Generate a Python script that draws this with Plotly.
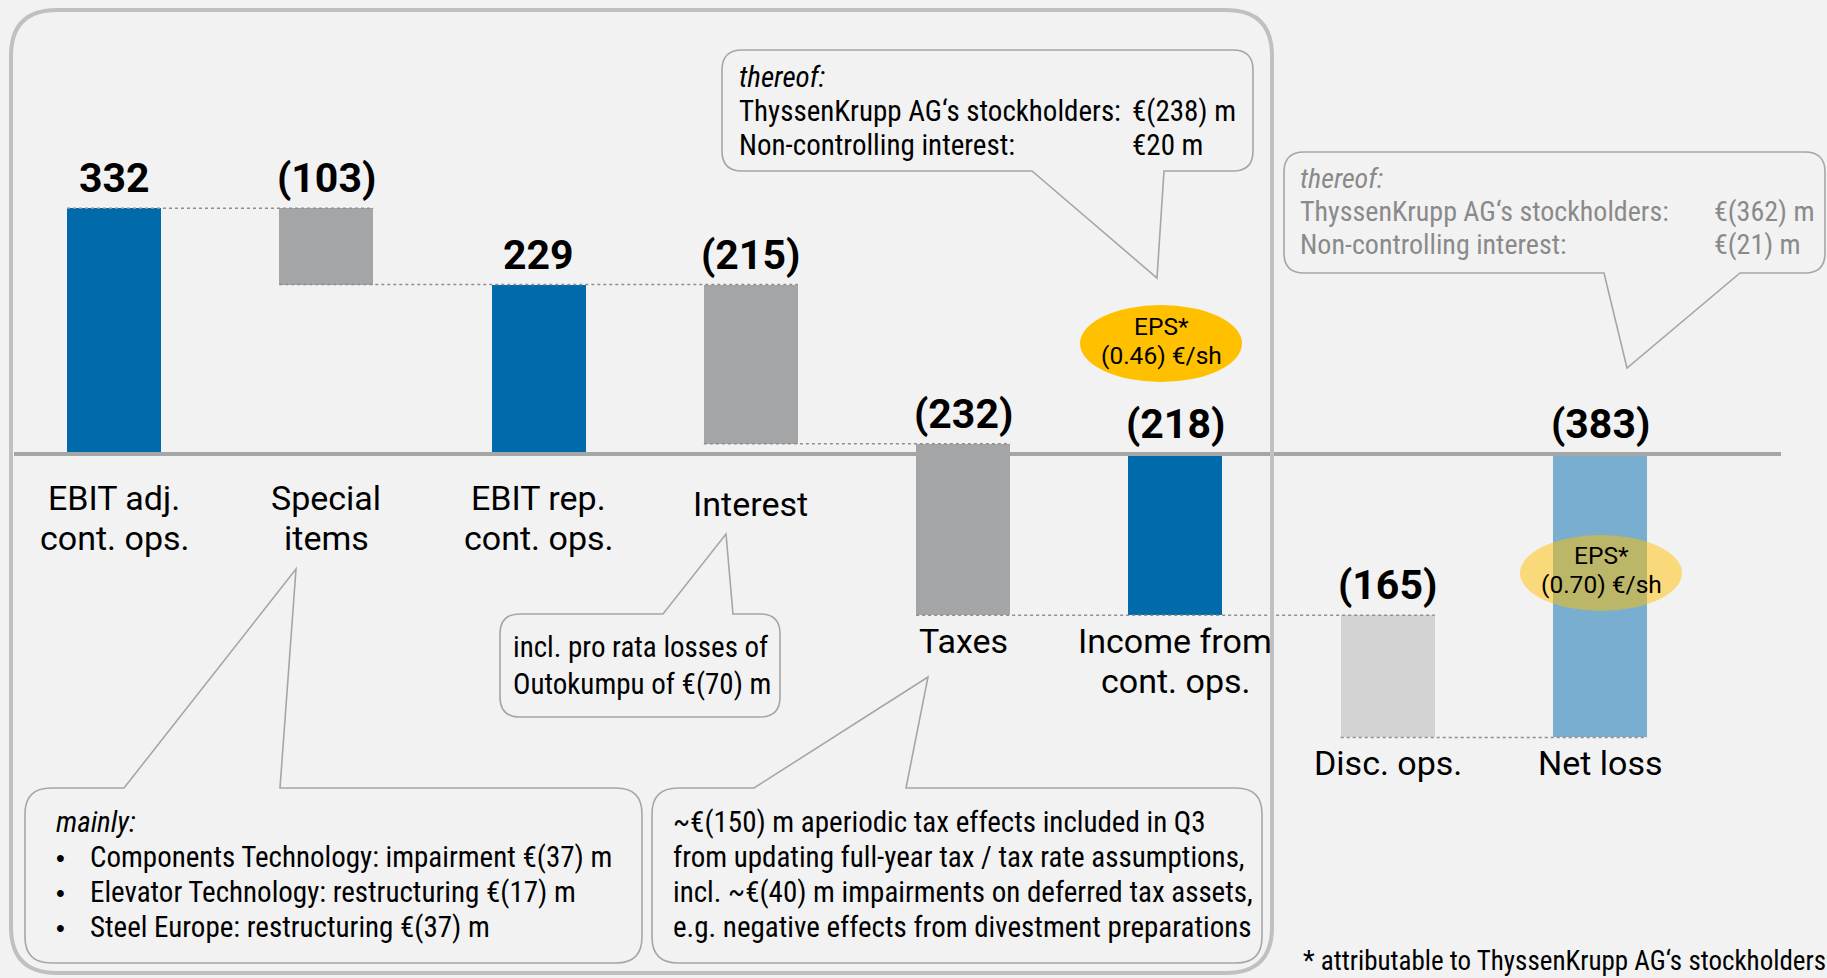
import plotly.graph_objects as go

# ---------------- data ----------------
categories = ["EBIT adj.\ncont. ops.", "Special\nitems", "EBIT rep.\ncont. ops.", "Interest",
              "Taxes", "Income from\ncont. ops.", "Disc. ops.", "Net loss"]
values = [332, -103, 229, -215, -232, -218, -165, -383]
measures = ["absolute", "relative", "total", "relative", "relative", "total", "relative", "total"]
bar_colors = ["#006AAB", "#A4A5A7", "#006AAB", "#A4A5A7", "#A4A5A7", "#006AAB", "#D3D3D3", "#79AED0"]

eps_cont = "(0.46) €/sh"
eps_net = "(0.70) €/sh"
thereof_cont = [("ThyssenKrupp AG‘s stockholders:", "€(238) m"), ("Non-controlling interest:", "€20 m")]
thereof_net = [("ThyssenKrupp AG‘s stockholders:", "€(362) m"), ("Non-controlling interest:", "€(21) m")]
interest_note = ["incl. pro rata losses of", "Outokumpu of €(70) m"]
special_note = ["Components Technology: impairment €(37) m",
                "Elevator Technology: restructuring €(17) m",
                "Steel Europe: restructuring €(37) m"]
tax_note = ["~€(150) m aperiodic tax effects included in Q3",
            "from updating full-year tax / tax rate assumptions,",
            "incl. ~€(40) m impairments on deferred tax assets,",
            "e.g. negative effects from divestment preparations"]
footnote = "* attributable to ThyssenKrupp AG‘s stockholders"

# ---------------- layout constants ----------------
W, H = 1827, 978
BG = "#F2F2F2"
COND = "Roboto Condensed, Liberation Sans, sans-serif"
ROBO = "Roboto, Liberation Sans, sans-serif"
MID = 0.342                           # baseline -> text-box middle, in em
X0PX, XSTEP = 114.0, 212.29          # pixel of first category, pixels per category
ZEROPX, YSCALE = 454.0, 0.74          # pixel of zero line, pixels per unit
BAR_W = 0.443

# waterfall geometry from values
bases, heights, levels = [], [], []
running = 0
for v, m in zip(values, measures):
    if m == "absolute":
        bases.append(0); heights.append(v); running = v
    elif m == "relative":
        bases.append(running); heights.append(v); running += v
    else:
        bases.append(0); heights.append(running)
    levels.append(running)
xs = list(range(len(values)))
tops = [max(b, b + h) for b, h in zip(bases, heights)]
bottoms = [min(b, b + h) for b, h in zip(bases, heights)]

fig = go.Figure()
fig.add_trace(go.Bar(x=xs, y=heights, base=bases, width=BAR_W,
                     marker=dict(color=bar_colors, line=dict(width=0)),
                     hoverinfo="skip", showlegend=False))


def PX(px):
    return px / W


def PY(py):
    return 1 - py / H


def text_px(txt, x, baseline, size, color="#000000", anchor="left", family=COND):
    ymid = baseline - MID * size
    fig.add_annotation(x=PX(x), y=PY(ymid), xref="paper", yref="paper", text=txt,
                       showarrow=False, xanchor=anchor, yanchor="middle", borderpad=0,
                       font=dict(family=family, size=size, color=color))


def fmt(v):
    return f"({abs(v)})" if v < 0 else f"{v}"


# value labels
VAL_SIZE = 41
for i, v in enumerate(values):
    fig.add_annotation(x=i, y=tops[i], xref="x", yref="y", text=f"<b>{fmt(v)}</b>",
                       showarrow=False, xanchor="center", yanchor="middle", borderpad=0,
                       yshift=16 + MID * VAL_SIZE,
                       font=dict(family=ROBO, size=VAL_SIZE, color="#000000"))

# category labels
CAT_SIZE = 34
CAT_PITCH = 40
for i, c in enumerate(categories):
    lines = c.split("\n")
    if i <= 3:
        anchor_y = 0
        first = 56 if len(lines) > 1 else 62
    else:
        anchor_y = bottoms[i]
        first = 37
    for k, ln in enumerate(lines):
        base_off = first + k * CAT_PITCH
        fig.add_annotation(x=i, y=anchor_y, xref="x", yref="y", text=ln, showarrow=False,
                           xanchor="center", yanchor="middle", borderpad=0,
                           yshift=-(base_off - MID * CAT_SIZE),
                           font=dict(family=ROBO, size=CAT_SIZE, color="#000000"))

shapes = []
# zero line
shapes.append(dict(type="line", xref="paper", yref="y", x0=PX(14), x1=PX(1781), y0=0, y1=0,
                   line=dict(color="#A6A6A6", width=4), layer="above"))
# dotted connectors between consecutive levels
connect = [(0, 1), (1, 3), (3, 4), (4, 6), (6, 7)]
for a, b in connect:
    shapes.append(dict(type="line", xref="x", yref="y", x0=a - BAR_W / 2, x1=b + BAR_W / 2,
                       y0=levels[a], y1=levels[a],
                       line=dict(color="#8F8F8F", width=1.5, dash="dot"), layer="above"))


def callout(x0, y0, x1, y1, r, pointer=None):
    pts = [f"M{PX(x0 + r)},{PY(y0)}"]
    if pointer and pointer[0] == "top":
        _, bx0, bx1, tx, ty = pointer
        pts += [f"L{PX(bx0)},{PY(y0)}", f"L{PX(tx)},{PY(ty)}", f"L{PX(bx1)},{PY(y0)}"]
    pts.append(f"L{PX(x1 - r)},{PY(y0)}")
    pts.append(f"Q{PX(x1)},{PY(y0)} {PX(x1)},{PY(y0 + r)}")
    pts.append(f"L{PX(x1)},{PY(y1 - r)}")
    pts.append(f"Q{PX(x1)},{PY(y1)} {PX(x1 - r)},{PY(y1)}")
    if pointer and pointer[0] == "bottom":
        _, bx0, bx1, tx, ty = pointer
        pts += [f"L{PX(bx1)},{PY(y1)}", f"L{PX(tx)},{PY(ty)}", f"L{PX(bx0)},{PY(y1)}"]
    pts.append(f"L{PX(x0 + r)},{PY(y1)}")
    pts.append(f"Q{PX(x0)},{PY(y1)} {PX(x0)},{PY(y1 - r)}")
    pts.append(f"L{PX(x0)},{PY(y0 + r)}")
    pts.append(f"Q{PX(x0)},{PY(y0)} {PX(x0 + r)},{PY(y0)}")
    pts.append("Z")
    return " ".join(pts)


CALL_LINE = dict(color="#A6A6A6", width=1.6)
# outer frame
shapes.append(dict(type="path", xref="paper", yref="paper", path=callout(11, 10, 1272, 973, 46),
                   line=dict(color="#C0C0C0", width=4), fillcolor="rgba(0,0,0,0)", layer="above"))
# callouts
shapes.append(dict(type="path", xref="paper", yref="paper",
                   path=callout(722, 50, 1253, 171, 20, ("bottom", 1032, 1164, 1157, 278)),
                   line=CALL_LINE, fillcolor=BG, layer="above"))
shapes.append(dict(type="path", xref="paper", yref="paper",
                   path=callout(1284, 152, 1825, 273, 20, ("bottom", 1604, 1740, 1627, 368)),
                   line=CALL_LINE, fillcolor=BG, layer="above"))
shapes.append(dict(type="path", xref="paper", yref="paper",
                   path=callout(500, 614, 780, 717, 20, ("top", 663, 733, 726, 534)),
                   line=CALL_LINE, fillcolor=BG, layer="above"))
shapes.append(dict(type="path", xref="paper", yref="paper",
                   path=callout(25, 788, 642, 963, 26, ("top", 124, 280, 296, 569)),
                   line=CALL_LINE, fillcolor=BG, layer="above"))
shapes.append(dict(type="path", xref="paper", yref="paper",
                   path=callout(652, 788, 1262, 963, 26, ("top", 754, 906, 928, 677)),
                   line=CALL_LINE, fillcolor=BG, layer="above"))
# EPS ellipses
shapes.append(dict(type="circle", xref="paper", yref="paper", x0=PX(1080), x1=PX(1242),
                   y0=PY(382), y1=PY(305), fillcolor="#FFC000", line=dict(width=0), layer="above"))
shapes.append(dict(type="circle", xref="paper", yref="paper", x0=PX(1520), x1=PX(1682),
                   y0=PY(611), y1=PY(535), fillcolor="rgba(255,192,0,0.5)", line=dict(width=0),
                   layer="above"))
fig.update_layout(shapes=shapes)

# EPS texts
ES = 24.5
EP = 28.8
text_px("EPS*", 1161, 335, ES, anchor="center", family=ROBO)
text_px(eps_cont, 1161, 335 + EP, ES, anchor="center", family=ROBO)
text_px("EPS*", 1601, 564, ES, anchor="center", family=ROBO)
text_px(eps_net, 1601, 564 + EP, ES, anchor="center", family=ROBO)

# callout texts
CS = 29
text_px("<i>thereof:</i>", 738, 87, CS)
for k, (lab, val) in enumerate(thereof_cont):
    text_px(lab, 738, 121 + 34 * k, CS)
    text_px(val, 1131, 121 + 34 * k, CS)
GREY = "#8A8A8A"
CSB = 28
text_px("<i>thereof:</i>", 1299, 188, CSB, color=GREY)
for k, (lab, val) in enumerate(thereof_net):
    text_px(lab, 1299, 221 + 33 * k, CSB, color=GREY)
    text_px(val, 1713, 221 + 33 * k, CSB, color=GREY)
for k, ln in enumerate(interest_note):
    text_px(ln, 512, 657 + 37 * k, CS)
text_px("<i>mainly:</i>", 55, 832, CS)
for k, ln in enumerate(special_note):
    text_px("•", 55, 867 + 35 * k, 25, family="Liberation Sans, Arial, sans-serif")
    text_px(ln, 89, 867 + 35 * k, CS)
for k, ln in enumerate(tax_note):
    text_px(ln, 672, 832 + 35 * k, CS)
text_px(footnote, 1302, 970, 27)

fig.update_layout(
    width=W, height=H, margin=dict(l=0, r=0, t=0, b=0),
    paper_bgcolor=BG, plot_bgcolor=BG, showlegend=False, bargap=0,
    xaxis=dict(range=[-X0PX / XSTEP, (W - X0PX) / XSTEP], visible=False, fixedrange=True),
    yaxis=dict(range=[-(H - ZEROPX) / YSCALE, ZEROPX / YSCALE], visible=False, fixedrange=True),
)

fig.write_html("out.html", config={"displayModeBar": False},
               post_script="document.body.style.margin='0px';document.body.style.overflow='hidden';")
